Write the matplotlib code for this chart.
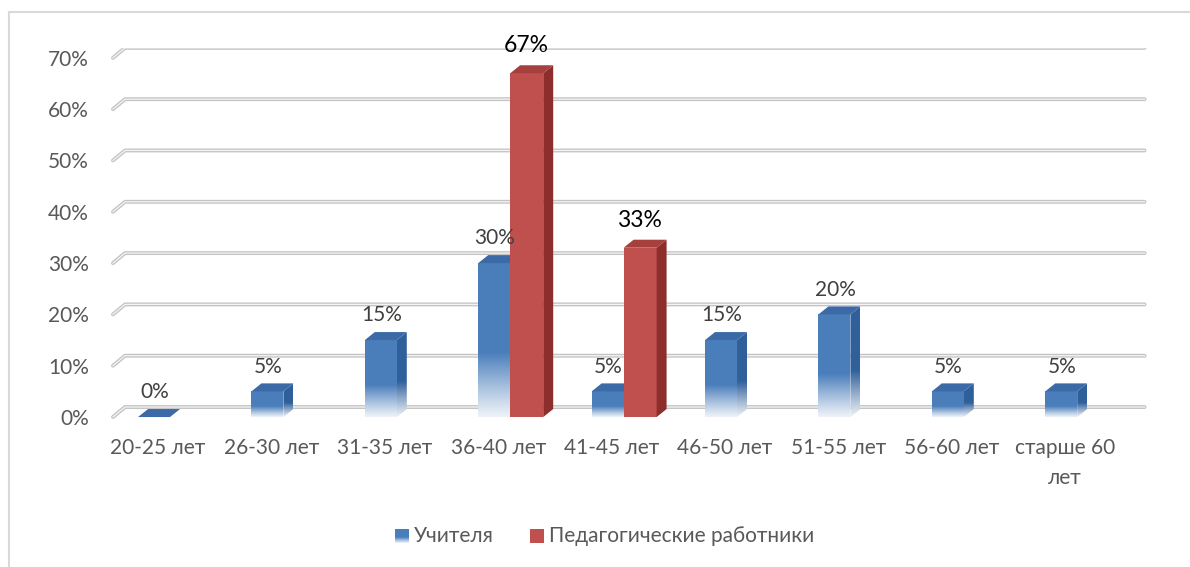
import matplotlib.pyplot as plt
import numpy as np
from matplotlib.patches import Polygon, Rectangle
from matplotlib.lines import Line2D
from matplotlib.colors import to_rgb

plt.rcParams['font.family'] = ['Lato', 'DejaVu Sans']

categories = ['20-25 лет', '26-30 лет', '31-35 лет', '36-40 лет', '41-45 лет',
              '46-50 лет', '51-55 лет', '56-60 лет', 'старше 60\nлет']
teachers = [0, 5, 15, 30, 5, 15, 20, 5, 5]
# only two groups have values for the second series
ped_idx = [3, 4]
ped_vals = [67, 33]
yticks = [0, 10, 20, 30, 40, 50, 60, 70]
series_names = ['Учителя', 'Педагогические работники']

blue = '#4A7EBB'
blue_side = '#30609A'
blue_top = '#3B6AA6'
red = '#C0504D'
red_side = '#8E2E2C'
red_top = '#A5403D'

fig = plt.figure(figsize=(11.9, 5.67), dpi=100)
ax = fig.add_axes([101.3 / 1190, 1 - 427.3 / 567, 1048.95 / 1190, (427.3 - 47.6) / 567])
ax.set_xlim(-0.5, 8.75)
ax.set_ylim(-2, 72)
for s in ax.spines.values():
    s.set_visible(False)

dx, dy = 0.088, 1.56      # depth offset of the fake 3D
gx0, gx1, gy = -0.397, -0.291, 1.95

# gridlines (floor/back wall style)
for t in yticks:
    xs = [gx0, gx1, 8.70]
    ys = [t, t + gy, t + gy]
    ax.plot(xs, ys, color='#C4C4C4', lw=2.8, solid_capstyle='round', zorder=1)
    ax.plot(xs, ys, color='#F4F4F4', lw=0.9, zorder=1.1)


def grad_img(col, n=200):
    c = np.array(to_rgb(col))
    t = np.linspace(0, 1, n)  # bottom -> top
    f = np.clip(t / 0.42, 0, 1) ** 1.1
    f = 0.10 + 0.90 * f
    rgb = 1 - (1 - c)[None, :] * f[:, None]
    return rgb[::-1][:, None, :]


def bar3d(x0, x1, v, front, side, top, fade, z):
    if v > 0:
        if fade:
            ax.imshow(grad_img(front), extent=[x0, x1, 0, v], aspect='auto',
                      interpolation='bilinear', zorder=z)
            sp = Polygon([(x1, 0), (x1, v), (x1 + dx, v + dy), (x1 + dx, dy)],
                         closed=True, fc='none', ec='none')
            ax.add_patch(sp)
            im = ax.imshow(grad_img(side), extent=[x1, x1 + dx, 0, v + dy], aspect='auto',
                           interpolation='bilinear', zorder=z)
            im.set_clip_path(sp)
        else:
            ax.add_patch(Rectangle((x0, 0), x1 - x0, v, fc=front, ec='none', zorder=z))
            ax.add_patch(Polygon([(x1, 0), (x1, v), (x1 + dx, v + dy), (x1 + dx, dy)],
                                 closed=True, fc=side, ec='none', zorder=z))
    ax.add_patch(Polygon([(x0, v), (x1, v), (x1 + dx, v + dy), (x0 + dx, v + dy)],
                         closed=True, fc=top, ec='none', zorder=z + 0.1))


x = np.arange(len(categories))
for i, v in zip(x, teachers):
    bar3d(i - 0.176, i + 0.106, v, blue, blue_side, blue_top, True, 3)
    ax.text(i - 0.03, v + 4.8, f'{v}%', ha='center', va='center',
            fontsize=15, color='#404040', zorder=6)

for i, v in zip(ped_idx, ped_vals):
    bar3d(i + 0.106, i + 0.397, v, red, red_side, red_top, False, 4)
    ax.text(i + 0.25, v + 5.4, f'{v}%', ha='center', va='center',
            fontsize=16.5, color='black', zorder=6)

ax.set_yticks(yticks)
ax.set_yticklabels([f'{t}%' for t in yticks])
ax.set_xticks(x)
ax.set_xticklabels(categories, linespacing=1.6, va='top')
ax.tick_params(length=0, labelsize=15, labelcolor='#595959')
ax.tick_params(axis='y', pad=9)
ax.tick_params(axis='x', pad=8)

# legend
lx, ly = 395 / 1190, 1 - 543 / 567
lw_, lh_ = 14 / 1190, 14 / 567
lax = fig.add_axes([lx, ly, lw_, lh_])
lax.imshow(grad_img(blue, 50), extent=[0, 1, 0, 1], aspect='auto')
lax.set_axis_off()
fig.text(414 / 1190, 1 - 536 / 567, series_names[0], fontsize=15, color='#595959', va='center')
fig.patches.append(Rectangle((530 / 1190, ly), lw_, lh_, fc=red, ec='none',
                             transform=fig.transFigure, figure=fig))
fig.text(549 / 1190, 1 - 536 / 567, series_names[1], fontsize=15, color='#595959', va='center')

# chart border (left and top edges visible)
fig.lines.append(Line2D([9 / 1190, 9 / 1190], [0, 1 - 12 / 567], color='#D9D9D9', lw=1.5,
                        transform=fig.transFigure, figure=fig))
fig.lines.append(Line2D([9 / 1190, 1], [1 - 12 / 567, 1 - 12 / 567], color='#D9D9D9', lw=1.5,
                        transform=fig.transFigure, figure=fig))

fig.savefig('out.png', dpi=100, facecolor='white')
